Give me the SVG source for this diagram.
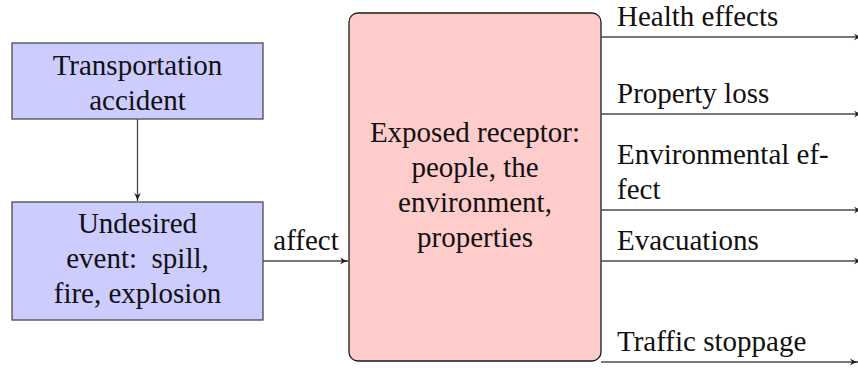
<svg xmlns="http://www.w3.org/2000/svg" width="858" height="370" viewBox="0 0 858 370">
  <style>
    text { font-family: 'Liberation Serif', 'Times New Roman', Times, 'DejaVu Serif', serif; font-size: 29px; fill: #111; }
    .c { text-anchor: middle; }
    .blue { fill: #ccccff; stroke: #4a4a4a; stroke-width: 1.3; }
    .pink { fill: #ffcccc; stroke: #1a1a1a; stroke-width: 1.3; }
    .edge { fill: none; stroke: #4a4a4a; stroke-width: 1.3; }
  </style>
  <defs>
    <marker id="arrow" markerWidth="10" markerHeight="10" refX="9" refY="5" orient="auto" markerUnits="userSpaceOnUse">
      <path d="M1,1.5 Q5,4.2 9,5 Q5,5.8 1,8.5 L3.2,5 Z" fill="#1a1a1a"/>
    </marker>
  </defs>

  <g font-family="'Liberation Serif', 'Times New Roman', serif">
  <g id="transportation-accident">
    <rect class="blue" x="12" y="43" width="251" height="76"/>
    <text class="c" x="137.5" y="75">Transportation</text>
    <text class="c" x="137.5" y="110">accident</text>
  </g>

  <g id="undesired-event">
    <rect class="blue" x="12" y="202" width="251" height="118"/>
    <text class="c" x="137.5" y="233">Undesired</text>
    <text class="c" x="137.5" y="268" xml:space="preserve">event:  spill,</text>
    <text class="c" x="137.5" y="303">fire, explosion</text>
  </g>

  <g id="exposed-receptor">
    <rect class="pink" x="349" y="13" width="252" height="348" rx="9" ry="9"/>
    <text class="c" x="475" y="142">Exposed receptor:</text>
    <text class="c" x="475" y="177">people, the</text>
    <text class="c" x="475" y="212">environment,</text>
    <text class="c" x="475" y="247">properties</text>
  </g>

  <g id="consequences">
    <text x="617" y="26">Health effects</text>
    <text x="617" y="103">Property loss</text>
    <text x="617" y="164">Environmental ef-</text>
    <text x="617" y="199">fect</text>
    <text x="617" y="250">Evacuations</text>
    <text x="617" y="351">Traffic stoppage</text>
  </g>

  <g id="connectors">
    <line class="edge" x1="137.5" y1="119" x2="137.5" y2="201" marker-end="url(#arrow)"/>
    <line class="edge" x1="263" y1="261" x2="348" y2="261" marker-end="url(#arrow)"/>
    <text class="c" x="306" y="250">affect</text>
    <line class="edge" x1="601" y1="37" x2="862" y2="37" marker-end="url(#arrow)"/>
    <line class="edge" x1="601" y1="114" x2="862" y2="114" marker-end="url(#arrow)"/>
    <line class="edge" x1="601" y1="210" x2="862" y2="210" marker-end="url(#arrow)"/>
    <line class="edge" x1="601" y1="261" x2="862" y2="261" marker-end="url(#arrow)"/>
    <line class="edge" x1="601" y1="362" x2="858" y2="362" marker-end="url(#arrow)"/>
  </g>
  </g>
</svg>
